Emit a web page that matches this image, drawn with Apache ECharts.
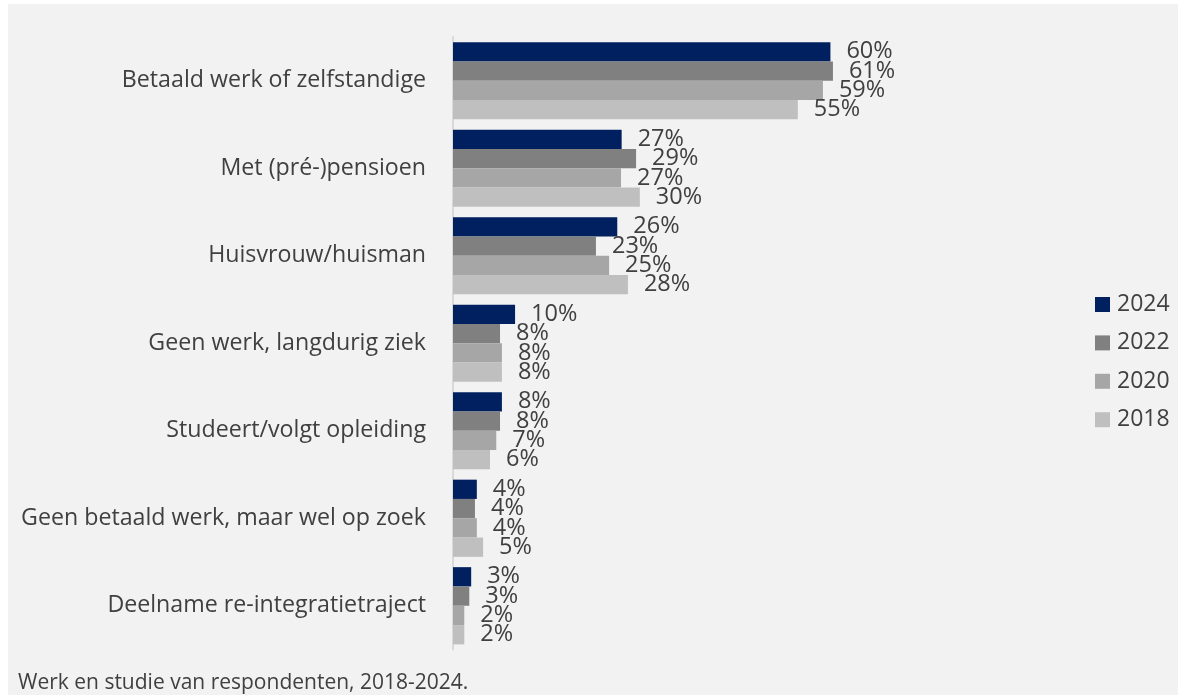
<!DOCTYPE html>
<html><head><meta charset="utf-8">
<script src="https://cdn.jsdelivr.net/npm/echarts@6/dist/echarts.min.js"></script>
<style>
html,body{margin:0;padding:0;background:#ffffff;}
#c{position:absolute;left:8px;top:4px;width:1170px;height:691px;background:#f2f2f2;}
</style></head>
<body><div id="c"></div>
<script>
const categories = ["Betaald werk of zelfstandige","Met (pré-)pensioen","Huisvrouw/huisman","Geen werk, langdurig ziek","Studeert/volgt opleiding","Geen betaald werk, maar wel op zoek","Deelname re-integratietraject"];
const years = ["2024","2022","2020","2018"];
const v2024 = [60.2, 26.9, 26.2, 9.9, 7.8, 3.8, 2.9];
const v2022 = [60.6, 29.2, 22.8, 7.5, 7.5, 3.5, 2.6];
const v2020 = [59.0, 26.8, 24.9, 7.8, 6.9, 3.8, 1.8];
const v2018 = [55.0, 29.8, 27.9, 7.8, 5.9, 4.8, 1.8];
const colors = ["#002060","#808080","#a6a6a6","#bfbfbf"];
const caption = "Werk en studie van respondenten, 2018-2024.";

const FONT = "Open Sans";
const chart = echarts.init(document.getElementById('c'));
const allVals = [v2024, v2022, v2020, v2018];
const series = years.map((y,i)=>({
  name: y, type: 'bar', data: allVals[i],
  itemStyle: {color: colors[i]},
  barGap: '0%', barCategoryGap: '11.8%',
  label: {show: true, position: 'right', distance: 16, color: '#404040', fontSize: 23.5, fontFamily: FONT,
    formatter: p => Math.round(p.value) + '%'},
  labelLayout: {hideOverlap: false},
  animation: false
}));
chart.setOption({
  backgroundColor: '#f2f2f2',
  textStyle: {fontFamily: FONT},
  grid: {left: 445, top: 33, width: 600, height: 612.5, containLabel: false},
  legend: {orient: 'vertical', left: 1087, top: 289, itemWidth: 15, itemHeight: 15, itemGap: 15.4, padding: 0,
    icon: 'rect', textStyle: {color: '#404040', fontSize: 23, fontFamily: FONT, padding: [0,0,0,2]}, data: years},
  xAxis: {type: 'value', min: 0, max: 95.7, show: false},
  yAxis: {type: 'category', data: categories, inverse: true,
    axisLine: {show: true, lineStyle: {color: '#d9d9d9', width: 2}},
    axisTick: {show: false},
    axisLabel: {color: '#404040', fontSize: 23.2, fontFamily: FONT, margin: 27}},
  graphic: [{type: 'text', left: 10, top: 669, style: {text: caption, fill: '#404040', fontSize: 21, fontFamily: FONT}}],
  series: series
});
</script></body></html>
